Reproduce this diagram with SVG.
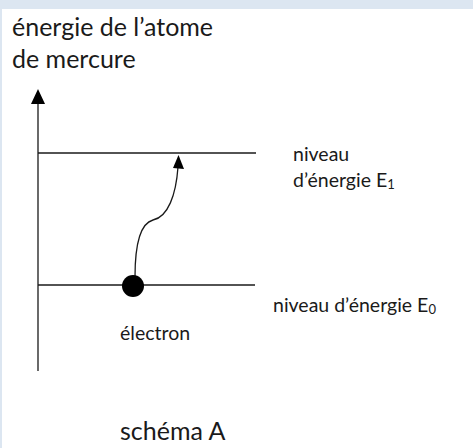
<svg xmlns="http://www.w3.org/2000/svg" width="473" height="448" viewBox="0 0 473 448">
<style>
text{font-family:Lato,"Open Sans","Liberation Sans",sans-serif;fill:#1a1a1a}
.t{font-size:25px}
.s{font-size:19.5px}
.ln{stroke:#1a1a1a;stroke-width:1.3;fill:none}
</style>
<rect x="0" y="0" width="473" height="448" fill="#dce6f1"/>
<rect x="2" y="9" width="471" height="439" fill="#fff"/>
<g id="title">
<text class="t" x="12" y="36">énergie de l’atome</text>
<text class="t" x="12" y="68">de mercure</text>
</g>
<g id="connectors">
<line class="ln" x1="38" y1="371" x2="38" y2="103" stroke-width="2"/>
<path d="M38,89 L45,104 L31,104 Z" fill="#000"/>
<line class="ln" x1="38" y1="153" x2="256" y2="153"/>
<line class="ln" x1="38" y1="285" x2="255" y2="285"/>
<path class="ln" d="M135,277 C135,250 138,224 153,220 C168,217 176,195 178,167" stroke-width="1.6"/>
<path d="M178.5,155 L184,169 L173,168 Z" fill="#000"/>
</g>
<g id="electron">
<circle cx="133" cy="286" r="11" fill="#000"/>
<text class="s" x="120" y="340">électron</text>
</g>
<g id="level1">
<text class="s" x="293" y="161">niveau</text>
<text class="s" x="293" y="187">d’énergie E<tspan font-size="13" dy="2">1</tspan></text>
</g>
<g id="level0">
<text class="s" x="273" y="312">niveau d’énergie  E<tspan font-size="13" dy="2">0</tspan></text>
</g>
<g id="caption">
<text class="t" x="120" y="440">schéma A</text>
</g>
</svg>
